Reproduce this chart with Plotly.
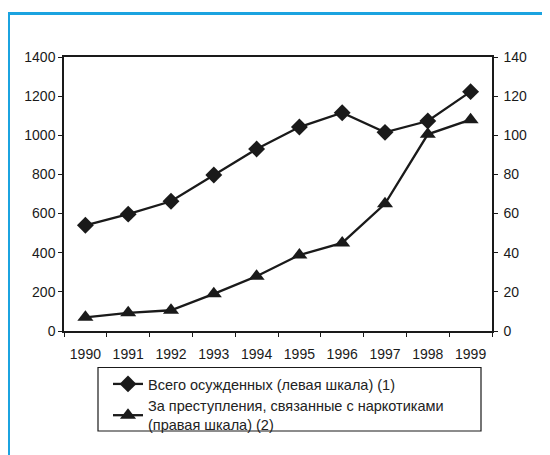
import plotly.graph_objects as go

years = ["1990", "1991", "1992", "1993", "1994", "1995", "1996", "1997", "1998", "1999"]
total_convicted = [540, 597, 663, 797, 930, 1042, 1115, 1015, 1073, 1223]
drug_crimes = [7, 9.3, 10.6, 19, 28, 38.8, 45, 65, 100.5, 108]
left_ticks = [0, 200, 400, 600, 800, 1000, 1200, 1400]
right_ticks = [0, 20, 40, 60, 80, 100, 120, 140]
name1 = "Всего осужденных (левая шкала) (1)"
name2 = "За преступления, связанные с наркотиками<br>(правая шкала) (2)"

# the page body has an 8px margin: work in page pixels and shift
OFF = 8
W, H = 550 - OFF, 455 - OFF
L, R, T, B = 64, 492, 57, 331  # plot box in page pixels
pw, ph = R - L, B - T

def px(x):
    return (x - L) / pw

def py(y):
    return (B - y) / ph

ink = "#1a1a1a"
font = dict(family="Liberation Sans, Arial, sans-serif", size=14, color=ink)
legend_font = dict(family="Liberation Sans, Arial, sans-serif", size=14.5, color="#222222")

fig = go.Figure()
fig.add_trace(go.Scatter(
    x=years, y=total_convicted, name=name1, mode="lines+markers",
    line=dict(color=ink, width=2.3),
    marker=dict(symbol="diamond", size=13, color=ink),
    yaxis="y",
))
fig.add_trace(go.Scatter(
    x=years, y=drug_crimes, name=name2, mode="lines+markers",
    line=dict(color=ink, width=2.3),
    marker=dict(symbol="triangle-up", size=14, color=ink),
    yaxis="y2",
))

fig.update_layout(
    width=W, height=H,
    margin=dict(l=L - OFF, r=550 - R, t=T - OFF, b=455 - B, pad=0),
    paper_bgcolor="white", plot_bgcolor="white",
    font=font,
    showlegend=True,
    legend=dict(
        x=px(108), y=py(368), xanchor="left", yanchor="top",
        bgcolor="rgba(0,0,0,0)", borderwidth=0,
        font=legend_font, tracegroupgap=0, itemwidth=30,
    ),
    xaxis=dict(
        type="category", tickson="boundaries",
        showline=True, linecolor=ink, linewidth=1.5, mirror=True,
        ticks="outside", ticklen=4, tickcolor=ink,
        showgrid=False, zeroline=False, range=[-0.5, 9.5],
        ticklabelstandoff=9,
    ),
    yaxis=dict(
        range=[0, 1400], tickvals=left_ticks,
        showline=True, linecolor=ink, linewidth=1.5,
        ticks="outside", ticklen=4, tickcolor=ink,
        showgrid=False, zeroline=False,
    ),
    yaxis2=dict(
        range=[0, 140], tickvals=right_ticks, overlaying="y", side="right",
        showline=True, linecolor=ink, linewidth=1.5,
        ticks="outside", ticklen=4, tickcolor=ink,
        showgrid=False, zeroline=False, ticklabelstandoff=3,
    ),
    shapes=[
        # legend frame
        dict(type="rect", xref="paper", yref="paper",
             x0=px(98), x1=px(481), y0=py(431), y1=py(367.5),
             line=dict(color=ink, width=1.2), fillcolor="rgba(0,0,0,0)"),
        # blue page border
        dict(type="line", xref="paper", yref="paper",
             x0=px(8.5), x1=px(8.5), y0=py(12.5), y1=py(460),
             line=dict(color="#1ba3e0", width=3)),
        dict(type="line", xref="paper", yref="paper",
             x0=px(7), x1=px(555), y0=py(13.5), y1=py(13.5),
             line=dict(color="#1ba3e0", width=3)),
    ],
)

fig.write_html("out.html")
